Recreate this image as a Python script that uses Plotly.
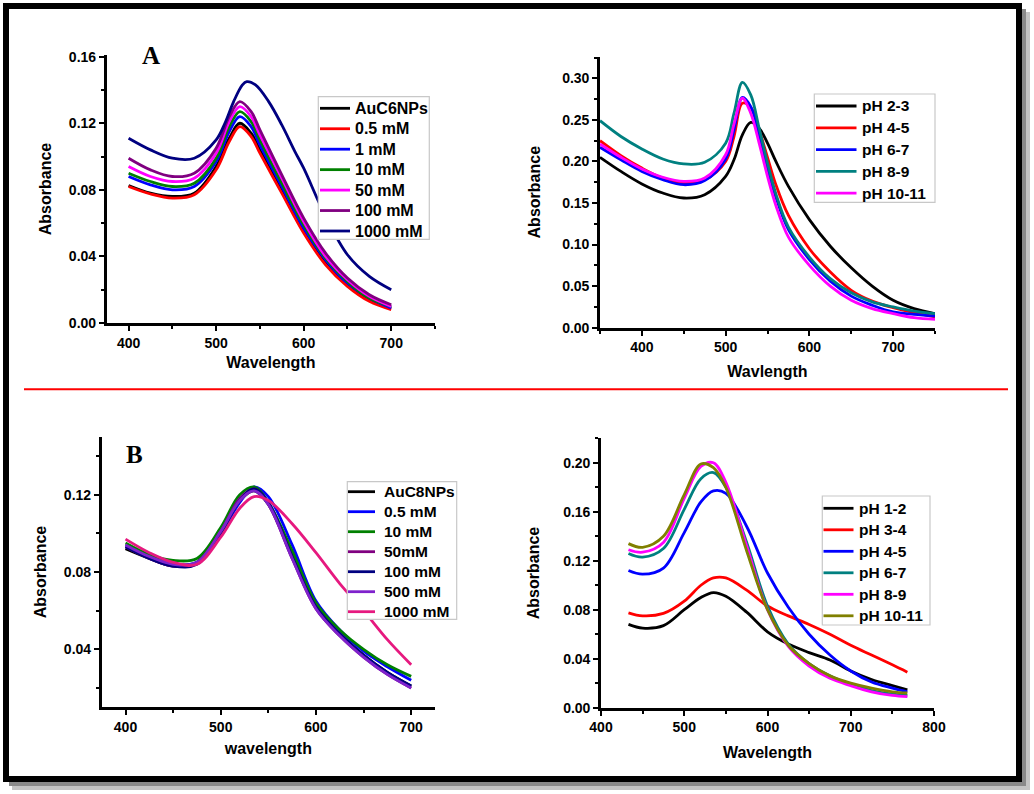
import plotly.graph_objects as go

W, H = 1034, 794

# ---------------- data ----------------
# Panel A (left): AuC6NPs with concentrations
wl_a1 = [400, 425, 450, 475, 500, 515, 527, 540, 550, 575, 600, 625, 650, 675, 700]
names_a1 = ["AuC6NPs", "0.5 mM", "1 mM", "10 mM", "50 mM", "100 mM", "1000 mM"]
a1_auc6 = [0.0826, 0.078, 0.076, 0.078, 0.094, 0.111, 0.120, 0.114, 0.104, 0.080, 0.056, 0.037, 0.023, 0.014, 0.009]
a1_05 = [0.082, 0.0775, 0.075, 0.077, 0.092, 0.109, 0.118, 0.112, 0.102, 0.078, 0.054, 0.035, 0.022, 0.013, 0.008]
a1_1 = [0.088, 0.083, 0.080, 0.082, 0.097, 0.115, 0.124, 0.118, 0.107, 0.082, 0.057, 0.038, 0.024, 0.015, 0.009]
a1_10 = [0.090, 0.085, 0.082, 0.084, 0.099, 0.118, 0.127, 0.121, 0.110, 0.084, 0.059, 0.039, 0.025, 0.015, 0.010]
a1_50 = [0.094, 0.088, 0.085, 0.087, 0.102, 0.121, 0.130, 0.124, 0.113, 0.087, 0.061, 0.040, 0.026, 0.016, 0.010]
a1_100 = [0.099, 0.092, 0.088, 0.090, 0.105, 0.124, 0.133, 0.127, 0.116, 0.089, 0.063, 0.042, 0.027, 0.017, 0.011]
wl_a1_1000 = [400, 425, 450, 475, 500, 510, 520, 530, 535, 545, 560, 575, 590, 600, 625, 650, 675, 700]
a1_1000 = [0.111, 0.104, 0.099, 0.099, 0.110, 0.120, 0.133, 0.143, 0.145, 0.143, 0.133, 0.119, 0.103, 0.093, 0.064, 0.041, 0.028, 0.020]

# Panel A (right): pH series
wl_a2 = [350, 375, 400, 425, 450, 475, 500, 510, 520, 530, 540, 550, 560, 575, 600, 625, 650, 675, 700, 725, 750]
names_a2 = ["pH 2-3", "pH 4-5", "pH 6-7", "pH 8-9", "pH 10-11"]
a2_ph23 = [0.205, 0.188, 0.173, 0.162, 0.156, 0.160, 0.182, 0.202, 0.232, 0.247, 0.240, 0.222, 0.200, 0.170, 0.130, 0.098, 0.072, 0.050, 0.033, 0.023, 0.017]
a2_ph45 = [0.225, 0.207, 0.192, 0.180, 0.174, 0.178, 0.200, 0.230, 0.270, 0.265, 0.238, 0.205, 0.172, 0.135, 0.095, 0.067, 0.045, 0.032, 0.024, 0.018, 0.013]
a2_ph67 = [0.217, 0.202, 0.188, 0.178, 0.172, 0.177, 0.203, 0.238, 0.277, 0.266, 0.232, 0.192, 0.157, 0.118, 0.082, 0.056, 0.038, 0.027, 0.019, 0.016, 0.014]
a2_ph89 = [0.249, 0.230, 0.215, 0.203, 0.197, 0.199, 0.222, 0.258, 0.295, 0.280, 0.240, 0.198, 0.161, 0.121, 0.085, 0.059, 0.042, 0.031, 0.025, 0.020, 0.017]
a2_ph1011 = [0.221, 0.205, 0.191, 0.181, 0.176, 0.180, 0.208, 0.245, 0.276, 0.258, 0.222, 0.182, 0.147, 0.109, 0.075, 0.050, 0.033, 0.023, 0.017, 0.012, 0.010]

# Panel B (left): AuC8NPs with concentrations
wl_b1 = [400, 425, 450, 475, 500, 520, 535, 550, 575, 600, 625, 650, 675, 700]
names_b1 = ["AuC8NPs", "0.5 mM", "10 mM", "50mM", "100 mM", "500 mM", "1000 mM"]
b1_auc8 = [0.092, 0.087, 0.083, 0.085, 0.101, 0.117, 0.122, 0.115, 0.088, 0.062, 0.048, 0.037, 0.028, 0.021]
b1_05 = [0.094, 0.088, 0.084, 0.085, 0.100, 0.116, 0.124, 0.119, 0.094, 0.065, 0.050, 0.039, 0.031, 0.024]
b1_10 = [0.095, 0.089, 0.086, 0.087, 0.103, 0.120, 0.124, 0.116, 0.091, 0.064, 0.050, 0.040, 0.032, 0.026]
b1_50 = [0.093, 0.087, 0.083, 0.085, 0.101, 0.118, 0.123, 0.115, 0.087, 0.061, 0.047, 0.036, 0.027, 0.020]
b1_100 = [0.093, 0.087, 0.083, 0.084, 0.100, 0.117, 0.123, 0.116, 0.088, 0.062, 0.048, 0.037, 0.028, 0.021]
b1_500 = [0.094, 0.088, 0.084, 0.085, 0.101, 0.117, 0.122, 0.115, 0.087, 0.061, 0.047, 0.036, 0.027, 0.020]
b1_1000 = [0.097, 0.090, 0.085, 0.084, 0.098, 0.113, 0.119, 0.117, 0.105, 0.090, 0.074, 0.060, 0.045, 0.032]

# Panel B (right): pH series
wl_b2 = [433, 450, 475, 500, 520, 535, 550, 575, 600, 625, 650, 675, 700, 725, 750, 768]
names_b2 = ["pH 1-2", "pH 3-4", "pH 4-5", "pH 6-7", "pH 8-9", "pH 10-11"]
b2_ph12 = [0.068, 0.065, 0.067, 0.080, 0.090, 0.094, 0.091, 0.078, 0.062, 0.052, 0.045, 0.039, 0.030, 0.023, 0.018, 0.0145]
b2_ph34 = [0.0775, 0.075, 0.077, 0.087, 0.100, 0.106, 0.106, 0.096, 0.083, 0.075, 0.068, 0.060, 0.051, 0.043, 0.035, 0.029]
b2_ph45 = [0.112, 0.109, 0.114, 0.143, 0.168, 0.177, 0.175, 0.148, 0.110, 0.082, 0.060, 0.043, 0.030, 0.021, 0.016, 0.013]
b2_ph67 = [0.126, 0.123, 0.130, 0.162, 0.187, 0.192, 0.180, 0.135, 0.083, 0.052, 0.036, 0.026, 0.019, 0.014, 0.011, 0.010]
b2_ph89 = [0.129, 0.127, 0.135, 0.171, 0.197, 0.200, 0.184, 0.132, 0.080, 0.050, 0.034, 0.024, 0.018, 0.013, 0.010, 0.009]
b2_ph1011 = [0.134, 0.131, 0.140, 0.174, 0.199, 0.196, 0.180, 0.128, 0.080, 0.051, 0.036, 0.026, 0.020, 0.016, 0.013, 0.012]

# ---------------- styling ----------------
colors_a1 = ["#000000", "#FF0000", "#0000FF", "#008000", "#FF00FF", "#800080", "#000080"]
colors_a2 = ["#000000", "#FF0000", "#0000FF", "#008080", "#FF00FF"]
colors_b1 = ["#000000", "#0000FF", "#008000", "#800080", "#000080", "#7F22CC", "#E6197F"]
colors_b2 = ["#000000", "#FF0000", "#0000FF", "#008080", "#FF00FF", "#808000"]

FONT = "Liberation Sans, Arial, sans-serif"
LW = 2.8


def fx(p):
    return p / W


def fy(p):
    return 1 - p / H


fig = go.Figure()

panels = [
    ("x", "y", [wl_a1] * 6 + [wl_a1_1000], [a1_auc6, a1_05, a1_1, a1_10, a1_50, a1_100, a1_1000], names_a1, colors_a1),
    ("x2", "y2", [wl_a2] * 5, [a2_ph23, a2_ph45, a2_ph67, a2_ph89, a2_ph1011], names_a2, colors_a2),
    ("x3", "y3", [wl_b1] * 7, [b1_auc8, b1_05, b1_10, b1_50, b1_100, b1_500, b1_1000], names_b1, colors_b1),
    ("x4", "y4", [wl_b2] * 6, [b2_ph12, b2_ph34, b2_ph45, b2_ph67, b2_ph89, b2_ph1011], names_b2, colors_b2),
]

for xa, ya, wls, series, names, cols in panels:
    for wl, vals, nm, c in zip(wls, series, names, cols):
        fig.add_trace(go.Scatter(
            x=wl, y=vals, name=nm, mode="lines", xaxis=xa, yaxis=ya, showlegend=False,
            line=dict(color=c, width=LW, shape="spline", smoothing=1.0),
        ))


def axis(domain, rng, dtick, minor_dtick, fmt, title, standoff, anchor):
    return dict(
        domain=domain, range=rng, anchor=anchor, dtick=dtick, tick0=0, tickformat=fmt,
        automargin=False,
        showline=True, linecolor="black", linewidth=2.6, mirror=False,
        ticks="outside", ticklen=5, tickwidth=2.4, tickcolor="black",
        minor=dict(dtick=minor_dtick, tick0=0, ticks="outside", ticklen=3, tickwidth=2, tickcolor="black"),
        showgrid=False, zeroline=False,
        tickfont=dict(family=FONT, size=14, color="black", weight="bold"),
        title=dict(text=title, standoff=standoff, font=dict(family=FONT, size=16, color="black", weight="bold")),
    )


fig.update_layout(
    width=W, height=H, margin=dict(l=0, r=0, t=0, b=0, pad=0, autoexpand=False),
    paper_bgcolor="white", plot_bgcolor="rgba(0,0,0,0)",
    showlegend=False,
    xaxis=axis([fx(106.7), fx(435)], [375, 750], 100, 50, "d", "Wavelength", 8, "y"),
    yaxis=axis([fy(323), fy(55)], [0, 0.161], 0.04, 0.02, ".2f", "Absorbance", 14, "x"),
    xaxis2=axis([fx(600), fx(935)], [350, 750], 100, 50, "d", "Wavlength", 12, "y2"),
    yaxis2=axis([fy(327.7), fy(56.7)], [0, 0.326], 0.05, 0.025, ".2f", "Absorbance", 18, "x2"),
    xaxis3=axis([fx(101.7), fx(435)], [375, 725], 100, 50, "d", "wavelength", 9, "y3"),
    yaxis3=axis([fy(707.3), fy(436.7)], [0.01, 0.15], 0.04, 0.02, ".2f", "Absorbance", 14, "x3"),
    xaxis4=axis([fx(601), fx(934)], [400, 800], 100, 50, "d", "Wavelength", 13, "y4"),
    yaxis4=axis([fy(707.7), fy(438.3)], [0, 0.22], 0.04, 0.02, ".2f", "Absorbance", 20, "x4"),
)

# frame with shadow, and red separator line
fig.add_shape(type="rect", xref="paper", yref="paper", x0=fx(12), x1=fx(1030), y0=fy(12), y1=fy(790),
              fillcolor="#c4c4c4", line=dict(width=0), layer="below")
fig.add_shape(type="rect", xref="paper", yref="paper", x0=fx(9), x1=fx(1026), y0=fy(9), y1=fy(786),
              fillcolor="#8a8a8a", line=dict(width=0), layer="below")
fig.add_shape(type="rect", xref="paper", yref="paper", x0=fx(6), x1=fx(1019), y0=fy(6), y1=fy(779),
              fillcolor="white", line=dict(color="black", width=6), layer="below")
fig.add_shape(type="line", xref="paper", yref="paper", x0=fx(24), x1=fx(1008), y0=fy(389.3), y1=fy(389.3),
              line=dict(color="#FF0000", width=2))


# legends (boxes drawn over the curves, like the original figure)
def draw_legend(box, row0, step, lx0, lx1, tx, names, cols, size):
    x0, y0, x1, y1 = box
    fig.add_shape(type="rect", xref="paper", yref="paper", x0=fx(x0), x1=fx(x1), y0=fy(y1), y1=fy(y0),
                  fillcolor="white", line=dict(color="#c8c8c8", width=1.2), layer="above")
    for i, (nm, c) in enumerate(zip(names, cols)):
        yy = row0 + i * step
        fig.add_shape(type="line", xref="paper", yref="paper", x0=fx(lx0), x1=fx(lx1), y0=fy(yy), y1=fy(yy),
                      line=dict(color=c, width=LW), layer="above")
        fig.add_annotation(text=nm, x=fx(tx), y=fy(yy), xref="paper", yref="paper", showarrow=False,
                           xanchor="left", yanchor="middle",
                           font=dict(family=FONT, size=size, color="black", weight="bold"))


draw_legend((318.3, 96.7, 429.3, 239.3), 108.3, 20.45, 320, 350, 352.5, names_a1, colors_a1, 16)
draw_legend((814.3, 94, 935, 202.3), 106, 21.8, 816, 856.5, 859.5, names_a2, colors_a2, 15.5)
draw_legend((347.3, 481.7, 456.7, 619.3), 491.7, 20, 348, 375, 382, names_b1, colors_b1, 15.5)
draw_legend((822.3, 496, 930, 625), 508.3, 21.5, 823.5, 853.5, 856.5, names_b2, colors_b2, 15.5)

# panel letters
fig.add_annotation(text="A", x=fx(150.7), y=fy(56), xref="paper", yref="paper", showarrow=False,
                   xanchor="center", yanchor="middle",
                   font=dict(family="Liberation Serif, Times New Roman, serif", size=25, color="black", weight="bold"))
fig.add_annotation(text="B", x=fx(134.3), y=fy(454), xref="paper", yref="paper", showarrow=False,
                   xanchor="center", yanchor="middle",
                   font=dict(family="Liberation Serif, Times New Roman, serif", size=25, color="black", weight="bold"))

fig.write_html("out.html", config={"displayModeBar": False},
               post_script="document.body.style.margin='0px';document.body.style.overflow='hidden';")
